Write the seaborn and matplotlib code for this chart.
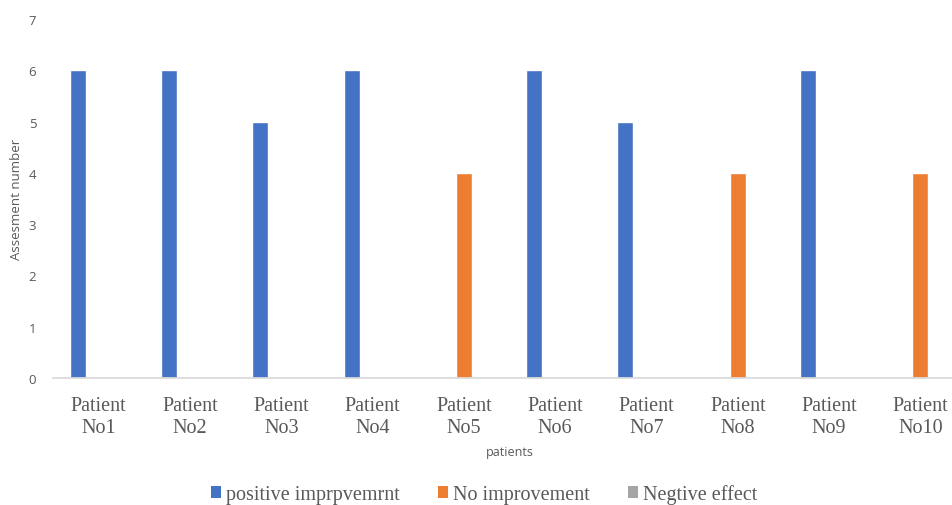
import matplotlib
matplotlib.use("Agg")
import matplotlib.pyplot as plt
import seaborn as sns
import pandas as pd
from matplotlib.patches import Patch

patients = ["Patient\nNo1", "Patient\nNo2", "Patient\nNo3", "Patient\nNo4", "Patient\nNo5",
            "Patient\nNo6", "Patient\nNo7", "Patient\nNo8", "Patient\nNo9", "Patient\nNo10"]
series = ["positive imprpvemrnt", "No improvement", "Negtive effect"]
positive = [6, 6, 5, 6, 0, 6, 5, 0, 6, 0]
no_improvement = [0, 0, 0, 0, 4, 0, 0, 4, 0, 4]
negative = [0, 0, 0, 0, 0, 0, 0, 0, 0, 0]
colors = ["#4472C4", "#ED7D31", "#A5A5A5"]

rows = []
for s, vals in zip(series, [positive, no_improvement, negative]):
    for p, v in zip(patients, vals):
        rows.append({"patient": p, "series": s, "value": v})
df = pd.DataFrame(rows)

sns.set_theme(style="white")
fig = plt.figure(figsize=(9.52, 5.06), dpi=100)
W, H = 952, 506
ax = fig.add_axes([53 / W, 127 / H, 913 / W, 359 / H])

sns.barplot(data=df, x="patient", y="value", hue="series", hue_order=series,
            palette=colors, width=0.69, gap=0.24, ax=ax, legend=False,
            errorbar=None, saturation=1)

ax.set_ylim(0, 7)
ax.set_xlim(-0.5, len(patients) - 0.5)
ax.set_yticks(range(0, 8))
ax.tick_params(axis="y", length=0, labelsize=9.5, labelcolor="#595959", pad=12)
for t in ax.get_yticklabels():
    t.set_family("Open Sans")
ax.set_xticks(range(len(patients)))
ax.set_xticklabels(patients, family="Liberation Serif", fontsize=14.5, color="#595959",
                   linespacing=1.2)
ax.tick_params(axis="x", length=0, pad=13)
ax.set_xticks([i - 0.5 for i in range(len(patients) + 1)], minor=True)
ax.tick_params(axis="x", which="minor", length=6, color="#d9d9d9", width=1, direction="out")

for s in ["top", "right", "left"]:
    ax.spines[s].set_visible(False)
ax.spines["bottom"].set_color("#d9d9d9")
ax.grid(False)

ax.set_ylabel("Assesment number", family="Open Sans", fontsize=9.5, color="#595959")
ax.yaxis.set_label_coords(-30 / 913, 0.5)
ax.set_xlabel("patients", family="Open Sans", fontsize=9, color="#595959")
ax.xaxis.set_label_coords(0.5, -(453 - 379) / 359)
ax.xaxis.label.set_va("center")

handles = [Patch(facecolor=c, edgecolor="none") for c in colors]
fig.legend(handles, series, loc="center", bbox_to_anchor=(484 / W, 1 - 495 / H),
           ncol=3, frameon=False, prop={"family": "Liberation Serif", "size": 14.5},
           handlelength=0.5, handleheight=0.5, handletextpad=0.25, columnspacing=1.9,
           labelcolor="#595959", borderpad=0, borderaxespad=0)

fig.savefig("out.png", dpi=100)
